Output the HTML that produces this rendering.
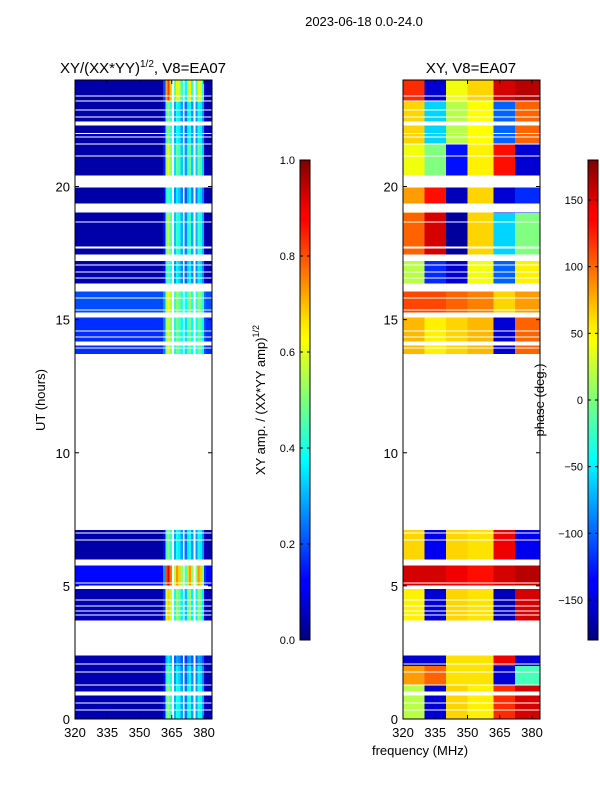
<!DOCTYPE html>
<html><head><meta charset="utf-8"><style>
html,body{margin:0;padding:0;background:#fff;}
svg{display:block;font-family:"Liberation Sans","DejaVu Sans",sans-serif;}
#ampPanel rect,#phasePanel rect{shape-rendering:crispEdges;}
</style></head><body>
<svg id="fig" width="600" height="800" viewBox="0 0 600 800" xmlns="http://www.w3.org/2000/svg">
<defs>
<clipPath id="clipL"><rect x="75" y="80" width="137" height="639"/></clipPath>
<clipPath id="clipR"><rect x="403" y="80" width="137" height="639"/></clipPath>
<linearGradient id="jetV" x1="0" y1="1" x2="0" y2="0">
<stop offset="0" stop-color="#00007f"/><stop offset="0.11" stop-color="#0000ff"/><stop offset="0.125" stop-color="#0000ff"/>
<stop offset="0.34" stop-color="#00dcff"/><stop offset="0.375" stop-color="#00ffff"/><stop offset="0.5" stop-color="#7cff7a"/>
<stop offset="0.625" stop-color="#ffff00"/><stop offset="0.66" stop-color="#ffe600"/><stop offset="0.875" stop-color="#ff0000"/>
<stop offset="0.89" stop-color="#ff0000"/><stop offset="1" stop-color="#7f0000"/>
</linearGradient>
</defs>
<text x="364" y="26" font-size="13" text-anchor="middle">2023-06-18 0.0-24.0</text>
<g id="ampPanel"></g>
<g id="phasePanel"></g>
<g id="axes"></g>
<text x="143" y="73" font-size="15" text-anchor="middle">XY/(XX*YY)<tspan font-size="10" dy="-6">1/2</tspan><tspan dy="6">, V8=EA07</tspan></text>
<text x="471" y="73" font-size="15" text-anchor="middle">XY, V8=EA07</text>
<text x="45" y="400" font-size="13" text-anchor="middle" transform="rotate(-90 45 400)">UT (hours)</text>
<text x="420" y="755" font-size="13" text-anchor="middle">frequency (MHz)</text>
<text x="265" y="400" font-size="13" text-anchor="middle" transform="rotate(-90 265 400)">XY amp. / (XX*YY amp)<tspan font-size="9" dy="-6">1/2</tspan></text>
<text x="544" y="400" font-size="13" text-anchor="middle" transform="rotate(-90 544 400)">phase (deg.)</text>
</svg>
<script>
// ---- data ----
const channels = [];            // MHz 320..383
for (let c = 320; c < 384; c++) channels.push(c);
const ampProfile = [0,0,0,0,0,0,0,0,0,0,0,0,0,0,0,0,0,0,0,0,
 0,0,0,0,0,0,0,0,0,0,0,0,0,0,0,0,0,0,0,0,0,
 0.1,0.45,0.52,0.42,null,0.28,0.4,0.36,0.26,null,0.22,0.36,0.4,0.26,null,0.26,0.4,0.36,0.26,0.03,0,0,0];
const blockStart = [23.2,21.6,20.4,19.0,17.3,16.2,15.1,13.7,6.0,5.0,3.7,2.0,1.3,0.0];
const blockEnd   = [24.0,23.2,21.6,20.0,19.0,17.2,16.1,15.1,7.1,5.8,4.9,2.55,2.0,1.3];
const blockAmpScale = [1.5,0.9,1.1,0.8,1.0,0.8,0.8,0.8,0.9,1.5,1.2,0.6,0.8,0.9];
const blockAmpBase  = [0.04,0.04,0.04,0.04,0.04,0.05,0.2,0.17,0.04,0.13,0.05,0.05,0.05,0.05];
const phaseBands = [320,330,340,350,362,372,384];
const blockPhase = [
 [120,-150,40,60,150,160],
 [60,-60,20,45,-100,100],
 [40,0,-130,50,130,-150],
 [80,130,-160,60,-150,-120],
 [100,150,-170,60,-60,0],
 [20,-120,-150,40,-100,50],
 [110,110,100,90,60,80],
 [70,50,60,70,-150,100],
 [60,-140,60,55,140,-140],
 [150,150,140,130,150,160],
 [50,-150,60,55,-160,150],
 [-150,-150,55,55,140,-150],
 [80,100,55,55,-150,-20],
 [20,-150,60,50,120,150]];
const gapStart = [23.38,23.19,22.85,22.59,22.30,21.97,21.84,21.58,21.13,20.26,19.96,19.22,19.02,18.65,17.68,17.22,17.03,16.77,16.54,16.06,15.79,15.34,15.08,14.55,14.33,14.03,13.91,13.73,
 6.97,6.70,5.76,5.09,4.88,4.45,4.22,4.04,3.89,3.68,2.38,2.05,1.75,1.26,0.88,0.58,0.32];
const gapEnd   = [23.42,23.23,22.89,22.63,22.44,22.01,21.88,21.62,21.17,20.42,20.19,19.36,19.21,18.69,17.75,17.45,17.07,16.81,16.58,16.36,15.83,15.38,15.27,14.59,14.37,14.18,13.95,7.10,
 7.01,6.74,5.99,5.13,5.02,4.49,4.26,4.08,3.93,3.70,2.55,2.09,1.79,1.30,1.03,0.62,0.36];
const yTicks = [0,5,10,15,20];
const xTicks = [320,335,350,365,380];
const ampTicks = [0.0,0.2,0.4,0.6,0.8,1.0];
const phaseTicks = [-150,-100,-50,0,50,100,150];

// ---- scales ----
const NS = 'http://www.w3.org/2000/svg';
const yS = h => 719 - (h/24)*639;
const xL = f => 75 + (f-320)*2.15;
const xR = f => 403 + (f-320)*2.15;
function jet(v){
  v = Math.max(0, Math.min(1, v));
  const cl = t => Math.round(255*Math.max(0, Math.min(1, t)));
  return `rgb(${cl(1.5-Math.abs(4*v-3))},${cl(1.5-Math.abs(4*v-2))},${cl(1.5-Math.abs(4*v-1))})`;
}
function mk(tag, attrs, parent){
  const e = document.createElementNS(NS, tag);
  for (const k in attrs) e.setAttribute(k, attrs[k]);
  parent.appendChild(e); return e;
}
const ampG = document.getElementById('ampPanel');
const phG = document.getElementById('phasePanel');
const gL = mk('g', {'clip-path':'url(#clipL)'}, ampG);
const gR = mk('g', {'clip-path':'url(#clipR)'}, phG);

blockStart.forEach((s, b) => {
  const y0 = yS(blockEnd[b]), y1 = yS(s);
  channels.forEach((f, i) => {
    const p = ampProfile[i];
    if (p === null) return;
    const v = blockAmpBase[b] + p*blockAmpScale[b];
    const r = mk('rect', {x:xL(f), y:y0, width:2.6, height:y1-y0, fill:jet(v)}, gL);
    
    
  });
  for (let k = 0; k < phaseBands.length-1; k++){
    const ph = blockPhase[b][k];
    const r = mk('rect', {x:xR(phaseBands[k]), y:y0, width:(phaseBands[k+1]-phaseBands[k])*2.15+0.6, height:y1-y0, fill:jet((ph+180)/360)}, gR);
    
    
  }
});
gapStart.forEach((s, i) => {
  [gL, gR].forEach((g, j) => {
    const r = mk('rect', {x: j ? 403 : 75, y: yS(gapEnd[i]), width:137, height: yS(s)-yS(gapEnd[i]), fill:'#fff'}, g);
    
    
  });
});

// ---- axes ----
const ax = document.getElementById('axes');
[75, 403].forEach((x0, pi) => {
  const fr = mk('rect', {x:x0, y:80, width:137, height:639, fill:'none', stroke:'#000', 'stroke-width':1}, ax);
  
  
  yTicks.forEach(t => {
    const y = yS(t);
    mk('line', {x1:x0, x2:x0+4, y1:y, y2:y, stroke:'#000'}, ax);
    mk('line', {x1:x0+137, x2:x0+133, y1:y, y2:y, stroke:'#000'}, ax);
    const tx = mk('text', {x:x0-5, y:y+5, 'font-size':13, 'text-anchor':'end'}, ax);
    tx.textContent = t;
    
    
  });
  xTicks.forEach(t => {
    const x = x0 + (t-320)*2.15;
    mk('line', {x1:x, x2:x, y1:719, y2:715, stroke:'#000'}, ax);
    mk('line', {x1:x, x2:x, y1:80, y2:84, stroke:'#000'}, ax);
    const tx = mk('text', {x:x, y:737, 'font-size':13, 'text-anchor':'middle'}, ax);
    tx.textContent = t;
    
    
  });
});
// colorbars
function colorbar(x0, ticks, lo, hi, fmt, name){
  const r = mk('rect', {x:x0, y:160, width:10, height:480, fill:'url(#jetV)', stroke:'#000', 'stroke-width':1}, ax);
  
  
  ticks.forEach(t => {
    const y = 640 - (t-lo)/(hi-lo)*480;
    mk('line', {x1:x0, x2:x0+3, y1:y, y2:y, stroke:'#000'}, ax);
    mk('line', {x1:x0+10, x2:x0+7, y1:y, y2:y, stroke:'#000'}, ax);
    const tx = mk('text', {x:x0-5, y:y+4, 'font-size':11, 'text-anchor':'end'}, ax);
    tx.textContent = fmt(t);
    
    
  });
}
colorbar(300, ampTicks, 0, 1, t => t.toFixed(1), 'amp-colorbar');
colorbar(588, phaseTicks, -180, 180, t => t < 0 ? '\u2212' + (-t) : String(t), 'phase-colorbar');
</script>
</body></html>
